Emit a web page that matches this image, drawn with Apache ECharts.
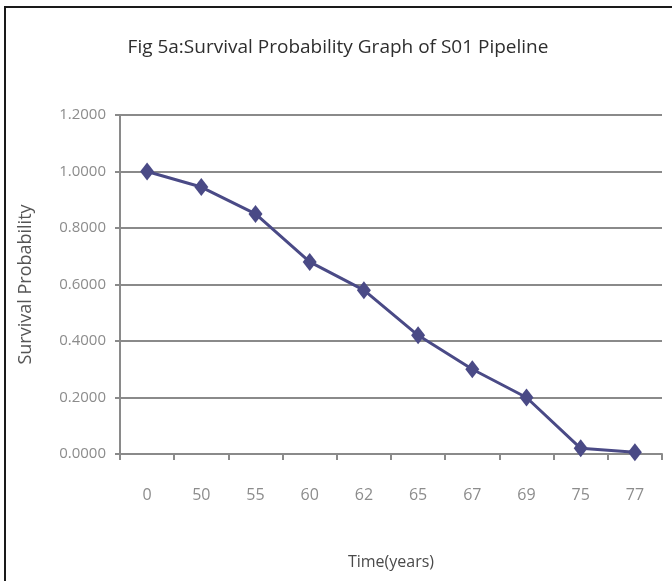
<!DOCTYPE html>
<html>
<head>
<meta charset="utf-8">
<script src="https://cdn.jsdelivr.net/npm/echarts@6/dist/echarts.min.js"></script>
<style>
  html, body { margin: 0; padding: 0; background: #fff; }
  #chart { width: 672px; height: 581px; }
</style>
</head>
<body>
<div id="chart"></div>
<script>
// Survival probability of the S01 pipeline against time in years
const timeYears = ['0', '50', '55', '60', '62', '65', '67', '69', '75', '77'];
const survivalProbability = [1.0, 0.945, 0.85, 0.68, 0.58, 0.42, 0.30, 0.20, 0.02, 0.006];

const chart = echarts.init(document.getElementById('chart'), null, { renderer: 'canvas' });
const fontFam = '"Open Sans", sans-serif';
const greyText = '#8c8c8c';
const gridGrey = '#8a8a8a';

chart.setOption({
  backgroundColor: '#ffffff',
  animation: false,
  graphic: [{
    type: 'rect',
    shape: { x: 5, y: 7, width: 700, height: 600 },
    style: { fill: 'none', stroke: '#1a1a1a', lineWidth: 2 },
    silent: true
  }],
  title: {
    text: 'Fig 5a:Survival Probability Graph of S01 Pipeline',
    left: 333,
    top: 33,
    textAlign: 'center',
    textStyle: { fontFamily: fontFam, fontSize: 19, fontWeight: 'normal', color: '#2e2e2e' }
  },
  grid: { left: 120, right: 10, top: 115, bottom: 127 },
  xAxis: {
    type: 'category',
    data: timeYears,
    boundaryGap: true,
    name: 'Time(years)',
    nameLocation: 'middle',
    nameGap: 100,
    nameTextStyle: { fontFamily: fontFam, fontSize: 16, color: '#4a4a4a' },
    axisLine: { lineStyle: { color: gridGrey, width: 2 } },
    axisTick: { show: true, length: 6, lineStyle: { color: gridGrey, width: 2 } },
    axisLabel: { fontFamily: fontFam, fontSize: 16, color: greyText, margin: 33 },
    splitLine: { show: false }
  },
  yAxis: {
    type: 'value',
    min: 0,
    max: 1.2,
    interval: 0.2,
    name: 'Survival Probability',
    nameLocation: 'middle',
    nameGap: 85,
    nameTextStyle: { fontFamily: fontFam, fontSize: 18, color: '#555' },
    axisLine: { show: true, lineStyle: { color: gridGrey, width: 2 } },
    axisTick: { show: true, length: 5, lineStyle: { color: gridGrey, width: 2 } },
    axisLabel: {
      fontFamily: fontFam, fontSize: 15, color: greyText, margin: 14,
      formatter: v => v.toFixed(4)
    },
    splitLine: { show: true, lineStyle: { color: gridGrey, width: 2 } }
  },
  series: [{
    type: 'line',
    data: survivalProbability,
    symbol: 'diamond',
    symbolSize: [14, 18],
    lineStyle: { color: '#4a4a86', width: 3 },
    itemStyle: { color: '#4a4a86' }
  }]
});
</script>
</body>
</html>
